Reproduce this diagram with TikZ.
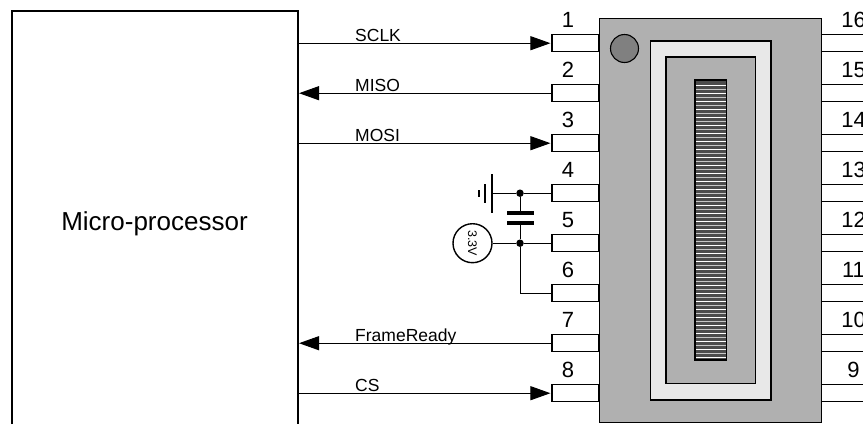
\documentclass[tikz,border=0pt]{standalone}
\usepackage{fontspec}
\setmainfont{Liberation Sans}
\usepackage{tikz}
\usetikzlibrary{arrows.meta}

\begin{document}
\begin{tikzpicture}[x=1pt, y=-1pt, line join=miter]
  % pitch of the pins and edges of the chip, in reference pixels
  \pgfmathsetmacro{\pitch}{50}
  \pgfmathsetmacro{\chipL}{599.5}
  \pgfmathsetmacro{\chipR}{821.5}

  \tikzset{
    wire/.style={draw=black, line width=1pt},
    sig/.style={wire, shorten >=1pt, -{Triangle[length=20pt,width=14pt]}},
    pin_box/.style={draw=black, line width=1.1pt, fill=white},
    pin_num/.style={font=\fontsize{22}{22}\selectfont, inner sep=0pt},
    sig_name/.style={font=\fontsize{17.5}{18}\selectfont, inner sep=0pt, anchor=base west},
    dot/.style={circle, fill=black, inner sep=0pt, minimum size=7.5pt},
    plate/.style={draw=black, line width=1.4pt},
    face_body/.style={draw=black, line width=1.1pt, fill=black!31},
    face_pale/.style={draw=black, line width=1.1pt, fill=black!9},
  }

  \useasboundingbox (0,0) rectangle (863,424);
  \clip (0,0) rectangle (863,424);

  % micro-processor, cut off by the lower edge
  \draw[line width=1.9pt] (12,424) -- (12,11) -- (298,11) -- (298,424);
  \node[font=\fontsize{26}{26}\selectfont, inner sep=0pt] (mcu) at (154.5,224) {Micro-processor};

  % pins, left row 1..8 and right row 16..9
  \foreach \n in {1,...,8}{
    \pgfmathsetmacro{\py}{43.2+(\n-1)*\pitch}
    \pgfmathtruncatemacro{\m}{17-\n}
    \node[pin_box, minimum width=47pt, minimum height=16.8pt, inner sep=0pt] (pl\n) at (575.5,\py) {};
    \node[pin_box, minimum width=60pt, minimum height=16.8pt, inner sep=0pt] (pr\m) at (851.5,\py) {};
    \node[pin_num] (nl\n) at (568,{\py-23}) {\n};
    \node[pin_num] (nr\m) at (853.5,{\py-23}) {\m};
  }

  % chip body
  \path[face_body] (\chipL,18.5) rectangle (\chipR,422.8);
  \path[face_pale] (650.5,41) rectangle (771,400);
  \path[face_body] (666,57) rectangle (755.5,383.5);
  \draw[line width=1.1pt, fill=black!50] (624.5,48.5) circle (14);

  % display window with its fine stripes
  \path[fill=black!70] (695,80) rectangle (726.5,360);
  \foreach \s in {0,...,68}{
    \pgfmathtruncatemacro{\tone}{mod(\s,2)*22}
    \fill[black!\tone] (695,{84.5+\s*4}) rectangle (726.5,{86.2+\s*4});
  }
  \draw[line width=1.1pt] (695,80) rectangle (726.5,360);

  % signal lines
  \coordinate (mcuA) at (298,43.2);
  \coordinate (mcuB) at (298,93.2);
  \coordinate (mcuC) at (298,143.2);
  \coordinate (mcuD) at (298,343.2);
  \coordinate (mcuE) at (298,393.2);
  \draw[sig] (mcuA) -- (pl1.west);
  \draw[sig] (pl2.west) -- (mcuB);
  \draw[sig] (mcuC) -- (pl3.west);
  \draw[sig] (pl7.west) -- (mcuD);
  \draw[sig] (mcuE) -- (pl8.west);

  \node[sig_name] (sclk) at (355,41) {SCLK};
  \node[sig_name] (miso) at (355,91) {MISO};
  \node[sig_name] (mosi) at (355,141) {MOSI};
  \node[sig_name] (frame) at (355,341) {FrameReady};
  \node[sig_name] (cs) at (355,391) {CS};

  % supply and decoupling
  \node[dot] (gndj) at (520,193.2) {};
  \node[dot] (vccj) at (520,243.2) {};
  \coordinate (gnd) at (492,193.2);
  \node[circle, draw=black, line width=1.4pt, fill=white, minimum size=39pt, inner sep=0pt] (vcc) at (472.5,243.2) {};
  \node[rotate=-90, font=\fontsize{12.5}{12.5}\selectfont, inner sep=0pt] (vcclabel) at (472.5,243.2) {3.3V};
  \coordinate (capA) at (520,213);
  \coordinate (capB) at (520,223);
  \draw[wire] (gnd) -- (gndj) -- (pl4.west);
  \draw[wire] (vcc) -- (vccj) -- (pl5.west);
  \draw[wire] (gndj) -- (capA);
  \draw[wire] (capB) -- (vccj);
  \draw[wire] (vccj) |- (pl6.west);
  \draw[line width=3.2pt] (507,213) -- (534,213);
  \draw[line width=3.2pt] (507,223) -- (534,223);
  \draw[plate] (492,174) -- (492,213);
  \draw[plate] (485,184) -- (485,203);
  \draw[line width=2pt] (479,190) -- (479,197);
\end{tikzpicture}
\end{document}
